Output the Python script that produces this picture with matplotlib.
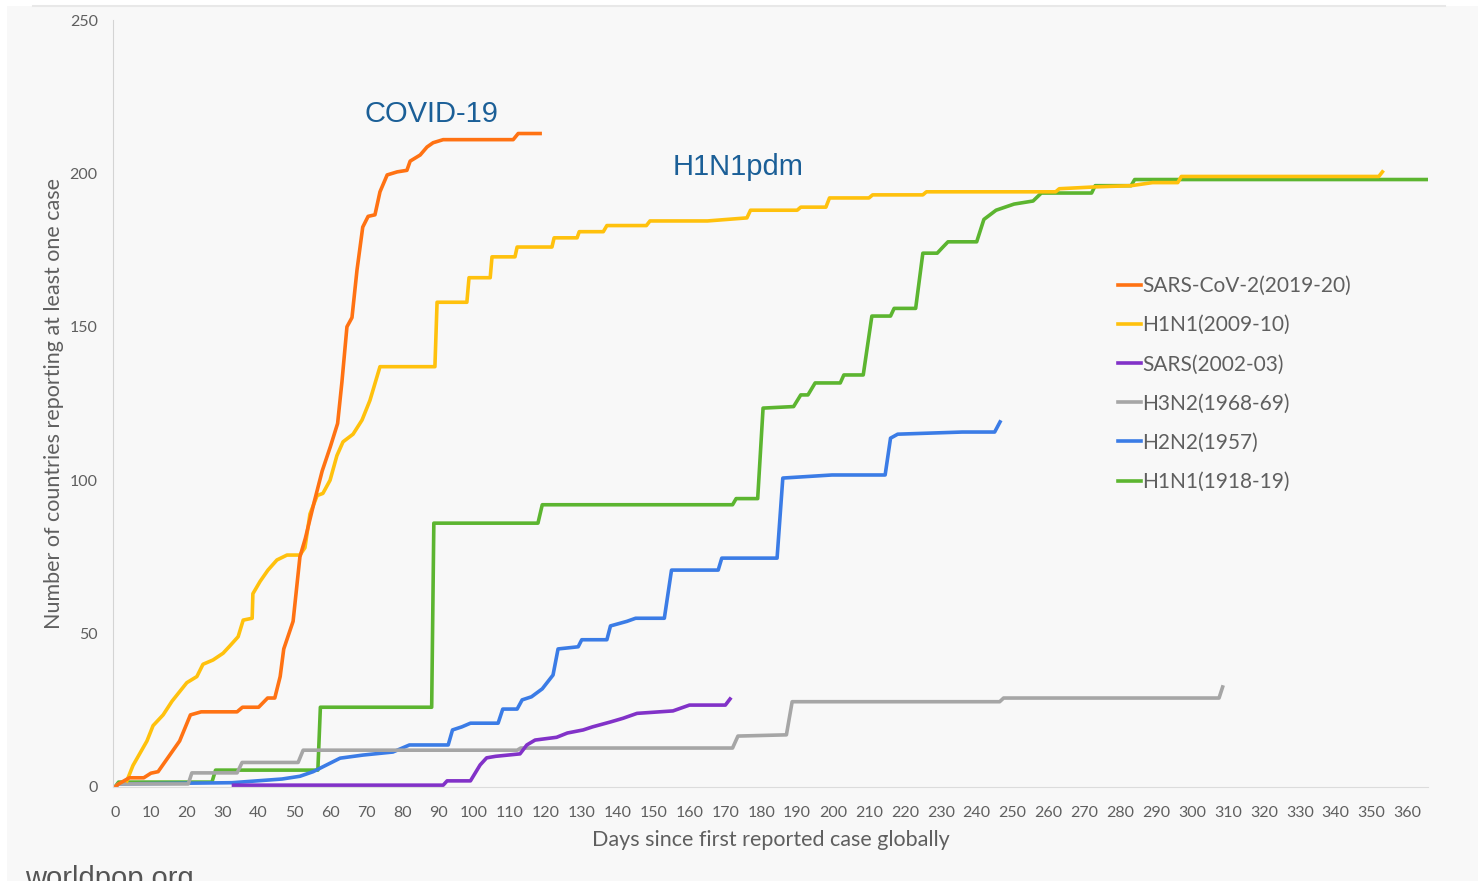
import matplotlib
matplotlib.use("Agg")
import matplotlib.pyplot as plt
from matplotlib.patches import Rectangle
from matplotlib.lines import Line2D

### Data: days since first reported case vs number of countries ###
covid_days = [0, 1, 4, 8, 10, 12, 15, 18, 21, 24, 34, 35.5, 40, 42.5, 44.5, 46, 47, 49.6, 51.5, 53,
              55.5, 57.7, 60, 62, 63.2, 64.6, 66, 67.4, 69, 70.5, 72.4, 73.8, 75.8, 78.6, 81.3, 82.2,
              85, 86.9, 88.6, 91.4, 110.9, 112.3, 118.4]
covid_vals = [0, 1, 3, 3, 4.5, 5, 10, 15, 23.5, 24.5, 24.5, 26, 26, 29, 29, 36, 45, 54, 75, 81,
              93, 103, 111, 118.5, 132, 150, 153, 168.5, 182.5, 186, 186.5, 194, 199.5, 200.5, 201, 204,
              206, 208.6, 210, 211, 211, 213, 213]

h1n1_2009_days = [3.3, 5, 8.9, 10.6, 13.4, 15.9, 20, 22.8, 24.5, 27.3, 30.1, 32, 34.3, 35.7, 38.2,
                  38.4, 40.4, 42.6, 45.1, 47.9, 51.5, 52.9, 54.3, 56.3, 57.9, 59.9, 61.8, 63.5, 66.3,
                  68.8, 71, 73.8, 89.1, 89.7, 98, 98.6, 104.5, 105, 111.4, 112, 121.7, 122.3, 128.7,
                  129.3, 136, 137, 148, 149, 165, 176, 177, 190, 191, 198, 199, 210, 211, 225, 226,
                  262, 263, 273, 283, 289, 296, 297, 352, 353]
h1n1_2009_vals = [2, 7, 15, 20, 23.5, 28, 34, 36, 40, 41.4, 43.6, 46, 49, 54.4, 55,
                  63, 67, 70.7, 74, 75.6, 75.6, 78, 89, 95, 95.7, 100, 108, 112.5, 115,
                  119.6, 126, 137, 137, 158, 158, 166, 166, 172.8, 172.8, 176, 176, 179, 179,
                  181, 181, 183, 183, 184.5, 184.5, 185.5, 188, 188, 189, 189, 192, 192, 193, 193, 194,
                  194, 195, 195.6, 196, 197, 197, 199, 199, 200.5]

sars_days = [33, 91.4, 92.5, 99, 101.7, 103.5, 106, 112.8, 114.7, 117, 123, 126, 130.4, 133, 138,
             141.5, 145.4, 155.4, 160, 170, 171.3]
sars_vals = [0.6, 0.6, 2, 2, 7.2, 9.5, 10, 10.8, 13.7, 15.3, 16.2, 17.6, 18.6, 19.6, 21.2,
             22.4, 24, 24.8, 26.7, 26.7, 28.7]

h3n2_days = [0, 1, 20.4, 21.4, 34, 35.4, 51, 52.4, 112, 113, 172, 173.5, 187, 188.6, 246.4, 247.5,
             307.5, 308.5]
h3n2_vals = [0, 1, 1, 4.6, 4.6, 8, 8, 12, 12, 12.7, 12.7, 16.6, 17, 27.8, 27.8, 29, 29, 32.6]

h2n2_days = [0, 1, 32.6, 46.5, 51.5, 55.2, 62.7, 69, 77.4, 82, 92.8, 94, 96.6, 99, 106.7, 108,
             112, 113.4, 116, 119, 122, 123.4, 129, 130, 137, 138, 142.6, 145, 153, 155, 168, 169,
             184.4, 186, 199.7, 214.5, 216, 218, 236, 245, 246.5]
h2n2_vals = [0, 1, 1.4, 2.6, 3.5, 5, 9.4, 10.4, 11.4, 13.7, 13.7, 18.6, 19.6, 20.8, 20.8, 25.4,
             25.4, 28.4, 29.4, 32, 36.5, 45, 45.7, 48, 48, 52.5, 54, 55, 55, 70.7, 70.7, 74.6,
             74.6, 100.7, 101.7, 101.7, 113.7, 115, 115.7, 115.7, 119]

h1n1_1918_days = [0, 1, 27, 28, 56.5, 57.2, 88.2, 88.8, 117.8, 119, 172, 173, 179, 180.5, 189, 191,
                  193, 195, 202, 203, 208.4, 210.8, 216, 217, 223, 225, 229, 230.6, 232, 240, 242,
                  245.4, 250.4, 255.7, 258, 272, 273, 283, 284, 365.5]
h1n1_1918_vals = [0, 1.6, 1.6, 5.5, 5.5, 26, 26, 86, 86, 92, 92, 94, 94, 123.5, 124, 127.8,
                  127.8, 131.7, 131.7, 134.3, 134.3, 153.5, 153.5, 156, 156, 174, 174, 176, 177.7, 177.7, 185,
                  188, 190, 191, 193.6, 193.6, 196, 196, 198, 198]

labels = ["SARS-CoV-2(2019-20)", "H1N1(2009-10)", "SARS(2002-03)",
          "H3N2(1968-69)", "H2N2(1957)", "H1N1(1918-19)"]
colors = ["#ff7213", "#ffc10d", "#8232c8", "#a6a6a6", "#3b7ce6", "#5cb530"]

yticks = [0, 50, 100, 150, 200, 250]
xticks = list(range(0, 361, 10))

series = [(covid_days, covid_vals), (h1n1_2009_days, h1n1_2009_vals), (sars_days, sars_vals),
          (h3n2_days, h3n2_vals), (h2n2_days, h2n2_vals), (h1n1_1918_days, h1n1_1918_vals)]

plt.rcParams['font.family'] = ['Lato', 'DejaVu Sans']
text_grey = "#5f5f5f"

fig = plt.figure(figsize=(14.78, 8.81), dpi=100)
fig.patch.set_facecolor("white")
# light grey panel behind everything
fig.patches.append(Rectangle((7 / 1478, 0), 1, 875 / 881, transform=fig.transFigure,
                             facecolor="#f8f8f8", edgecolor="none", zorder=-10))
fig.lines.append(Line2D([33 / 1478, 1445 / 1478], [875 / 881, 875 / 881], transform=fig.transFigure,
                        color="#e8e8e8", lw=1.5))

ax = fig.add_axes([113 / 1478, 94 / 881, 1315 / 1478, 767 / 881])
ax.patch.set_alpha(0)

# draw oldest first so covid sits on top
order = [5, 4, 3, 2, 1, 0]
handles = {}
for i in order:
    d, v = series[i]
    ln, = ax.plot(d, v, color=colors[i], lw=2.6, label=labels[i], solid_joinstyle="round")
    handles[i] = ln

ax.set_xlim(-0.56, 365.7)
ax.set_ylim(0, 250)
ax.set_xticks(xticks)
ax.set_yticks(yticks)
ax.tick_params(axis="both", length=0, labelsize=11.5, labelcolor=text_grey)
ax.tick_params(axis="y", pad=11)
ax.tick_params(axis="x", pad=14)
for side in ["top", "right"]:
    ax.spines[side].set_visible(False)
ax.spines["left"].set_color("#d4d4d4")
ax.spines["bottom"].set_color("#dcdcdc")

ax.set_xlabel("Days since first reported case globally", fontsize=15.5, color=text_grey, labelpad=7)
ax.set_ylabel("Number of countries reporting at least one case", fontsize=15.5, color=text_grey,
              labelpad=4)

ax.legend([handles[i] for i in range(6)], labels, loc="upper left", bbox_to_anchor=(0.758, 0.677),
          frameon=False, handlelength=1.1, handletextpad=0.05, labelspacing=0.92, fontsize=15,
          labelcolor=text_grey, borderaxespad=0)

ax.text(88, 219.5, "COVID-19", fontsize=21, color="#1b5f97", family="Liberation Sans",
        ha="center", va="center")
ax.text(173.5, 202, "H1N1pdm", fontsize=21, color="#1b5f97", family="Liberation Sans",
        ha="center", va="center")

fig.text(25 / 1478, -6 / 881, "worldpop.org", fontsize=21, color="#555555",
         family="Liberation Sans", va="baseline")

fig.savefig("out.png", dpi=100)
